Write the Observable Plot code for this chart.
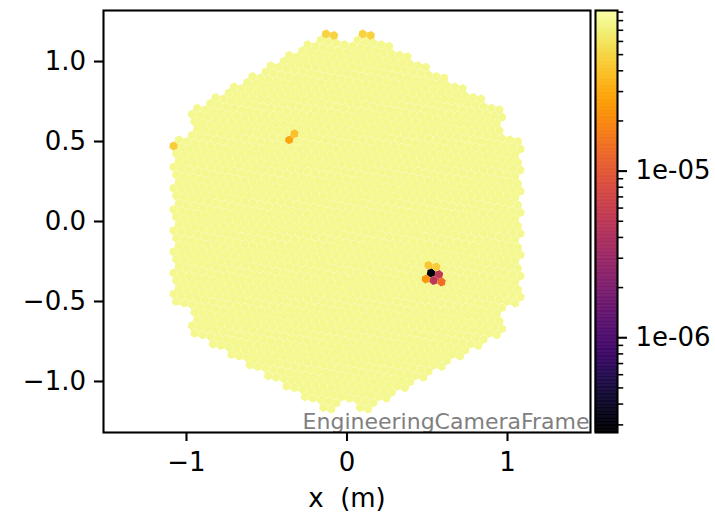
<!DOCTYPE html>
<html><head><meta charset="utf-8">
<script src="https://cdn.jsdelivr.net/npm/d3@7"></script>
<script src="https://cdn.jsdelivr.net/npm/@observablehq/plot@0.6"></script>
<style>
body{margin:0;background:#fff;}
#chart{position:relative;width:715px;height:513px;font-family:"DejaVu Sans",sans-serif;}
#chart svg{position:absolute;top:0;}
</style></head><body><div id="chart"></div>
<script>
// Camera geometry (LSTCam-like: 265 seven-pixel modules on a hex lattice)
const pixelSpacing = 0.05;              // m between pixel centres
const latticeAngleDeg = -10.893;        // orientation of pixel rows
const moduleRings = 9;
const removedModuleCorners = [[9,0],[0,9],[-9,9],[-9,0],[0,-9],[9,-9]];
const modulePixelOffsets = [[0,0],[1,0],[-1,0],[0,1],[0,-1],[-1,1],[1,-1]];

// Pixel values
const baseValue = 8.0e-5;               // typical pale-yellow pixel
const pixelA     = [14,     15,     15,     16,      14,     13,     14,     -14,    -14,    -20,    -19,    -16,    -15,    -26];
const pixelB     = [-5,     -5,     -6,     -6,      -6,     -4,     -4,     10,     11,     26,     26,     27,     27,     6];
const pixelValue = [2.7e-7, 5.5e-6, 5.0e-6, 1.4e-5,  2.4e-5, 4.3e-5, 4.5e-5, 2.9e-5, 4.0e-5, 4.9e-5, 4.9e-5, 4.9e-5, 4.9e-5, 4.6e-5];

const colorDomain = [2.7e-7, 9.2e-5];
const xTicks = [-1, 0, 1];
const yTicks = [-1, -0.5, 0, 0.5, 1];
const cbarMajorTicks = [1e-6, 1e-5];
const cbarTickLabels = ["1e-06", "1e-05"];
const cbarMinorTicks = [3e-7,4e-7,5e-7,6e-7,7e-7,8e-7,9e-7,2e-6,3e-6,4e-6,5e-6,6e-6,7e-6,8e-6,9e-6,2e-5,3e-5,4e-5,5e-5,6e-5,7e-5,8e-5,9e-5];
const xLabel = "x  (m)";
const frameLabel = "EngineeringCameraFrame";

// Build pixel table
const th = latticeAngleDeg * Math.PI / 180;
const u1 = [Math.cos(th), Math.sin(th)];
const u2 = [Math.cos(th + Math.PI/3), Math.sin(th + Math.PI/3)];
const overrides = new Map(pixelA.map((a, i) => [a + "," + pixelB[i], pixelValue[i]]));
const cornerSet = new Set(removedModuleCorners.map(c => c.join(",")));
const pixels = [];
for (let i = -moduleRings; i <= moduleRings; i++) {
  for (let j = -moduleRings; j <= moduleRings; j++) {
    if (Math.max(Math.abs(i), Math.abs(j), Math.abs(i + j)) > moduleRings) continue;
    if (cornerSet.has(i + "," + j)) continue;
    const ca = i - 2 * j, cb = 2 * i + 3 * j;
    for (const [da, db] of modulePixelOffsets) {
      const a = ca + da, b = cb + db;
      pixels.push({
        x: pixelSpacing * (a * u1[0] + b * u2[0]),
        y: pixelSpacing * (a * u1[1] + b * u2[1]),
        value: overrides.get(a + "," + b) ?? baseValue
      });
    }
  }
}

const font = {fontFamily: "DejaVu Sans", fontSize: "26px", background: "transparent", overflow: "visible"};
const lw = 2.08;

const main = Plot.plot({
  width: 715, height: 513,
  marginLeft: 103, marginRight: 125, marginTop: 10, marginBottom: 81,
  style: font,
  x: {domain: [-1.517, 1.517]},
  y: {domain: [-1.319, 1.319]},
  color: {type: "log", scheme: "inferno", domain: colorDomain},
  marks: [
    Plot.dot(pixels, {x: "x", y: "y", fill: "value", symbol: "hexagon", r: 3.95, rotate: -latticeAngleDeg}),
    Plot.text([frameLabel], {frameAnchor: "bottom-right", textAnchor: "end", lineAnchor: "middle", dx: -1, dy: -11, fill: "#808080", fontSize: 22}),
    Plot.frame({stroke: "black", strokeWidth: lw}),
    Plot.axisX({ticks: xTicks, tickFormat: d3.format("d"), tickSize: 9, tickPadding: 11.5, strokeWidth: lw, label: null, fontSize: 26}),
    Plot.axisY({ticks: yTicks, tickFormat: d3.format(".1f"), tickSize: 9, tickPadding: 8.5, strokeWidth: lw, label: null, fontSize: 26}),
    Plot.text([xLabel], {frameAnchor: "bottom", lineAnchor: "middle", dy: 66.5, fontSize: 26})
  ]
});

const steps = d3.range(301).map(k => colorDomain[0] * Math.pow(colorDomain[1] / colorDomain[0], k / 300));
const strips = steps.slice(0, -1).map((v, k) => ({y1: v, y2: steps[k + 1], c: Math.sqrt(v * steps[k + 1])}));
const cbarLabelOf = new Map(cbarMajorTicks.map((t, i) => [t, cbarTickLabels[i]]));

const cbar = Plot.plot({
  width: 125, height: 513,
  marginLeft: 5, marginRight: 98, marginTop: 10, marginBottom: 81,
  style: font,
  x: {domain: [0, 1], axis: null},
  y: {type: "log", domain: colorDomain, axis: null},
  color: {type: "log", scheme: "inferno", domain: colorDomain},
  marks: [
    Plot.rect(strips, {x1: 0, x2: 1, y1: "y1", y2: "y2", fill: "c", stroke: "c", strokeWidth: 0.6}),
    Plot.frame({stroke: "black", strokeWidth: lw}),
    Plot.axisY(cbarMinorTicks, {anchor: "right", tickSize: 5.2, strokeWidth: 1.56, tickFormat: () => "", label: null}),
    Plot.axisY(cbarMajorTicks, {anchor: "right", tickSize: 9, tickPadding: 9, strokeWidth: lw, tickFormat: d => cbarLabelOf.get(d) ?? "", label: null, fontSize: 26})
  ]
});

const root = document.getElementById("chart");
main.style.left = "0px";
cbar.style.left = "590px";
root.appendChild(main);
root.appendChild(cbar);
</script>
</body></html>
